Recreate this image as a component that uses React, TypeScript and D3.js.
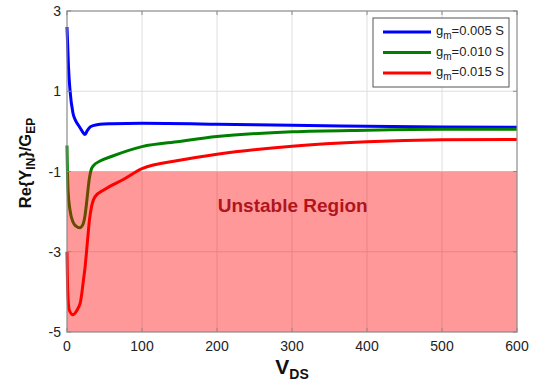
import React from "react";
import * as d3 from "d3";

// V_DS sample points and Re{Y_IN}/G_EP for each transconductance
const vdsBlue = [0, 1, 2, 4, 8, 12, 15, 18, 21, 24, 27, 31, 36, 44, 60, 100, 200, 300, 400, 500, 600];
const blueVals = [2.6, 2.1, 1.6, 1.03, 0.45, 0.25, 0.16, 0.07, -0.02, -0.08, 0.02, 0.11, 0.15, 0.18, 0.19, 0.2, 0.18, 0.15, 0.13, 0.11, 0.1];

const vdsGreen = [0, 0.5, 1.5, 4, 8, 12, 17, 21, 24, 26, 28, 30, 32, 35, 44, 60, 100, 150, 200, 300, 400, 500, 600];
const greenVals = [-0.35, -0.9, -1.5, -1.96, -2.26, -2.36, -2.4, -2.33, -2.1, -1.8, -1.45, -1.15, -0.97, -0.86, -0.74, -0.62, -0.38, -0.25, -0.13, -0.01, 0.03, 0.05, 0.05];

const vdsRed = [0, 0.5, 1, 3, 8, 12, 15, 18, 20, 22, 24, 27, 30, 33, 37, 50, 75, 100, 150, 200, 300, 400, 500, 600];
const redVals = [-3.0, -3.6, -4.0, -4.45, -4.57, -4.5, -4.4, -4.25, -4.0, -3.7, -3.4, -2.8, -2.2, -1.85, -1.64, -1.45, -1.2, -0.93, -0.72, -0.57, -0.37, -0.26, -0.21, -0.2];

const seriesNames = ["0.005 S", "0.010 S", "0.015 S"];
const seriesColors = ["#0000ff", "#008000", "#ff0000"];

const xTicks = [0, 100, 200, 300, 400, 500, 600];
const yTicks = [3, 1, -1, -3, -5];
const unstableTop = -1;
const unstableBottom = -5;

const W = 543;
const H = 388;
const m = { left: 67, right: 517, top: 11, bottom: 332 };

export default function App() {
  const x = d3.scaleLinear().domain([0, 600]).range([m.left, m.right]);
  const y = d3.scaleLinear().domain([-5, 3]).range([m.bottom, m.top]);
  const line = d3
    .line<[number, number]>()
    .x((d) => x(d[0]))
    .y((d) => y(d[1]))
    .curve(d3.curveMonotoneX);

  const series = [
    d3.zip(vdsBlue, blueVals) as [number, number][],
    d3.zip(vdsGreen, greenVals) as [number, number][],
    d3.zip(vdsRed, redVals) as [number, number][],
  ];

  const font = "Arial, 'Liberation Sans', sans-serif";
  const frame = "#8a8a8a";

  return (
    <svg width={W} height={H} style={{ position: "absolute", left: 0, top: 0, background: "#fff" }} fontFamily={font}>
      {/* grid */}
      {xTicks.slice(1, -1).map((t) => (
        <line key={"gx" + t} x1={x(t)} x2={x(t)} y1={m.top} y2={m.bottom} stroke="#dedede" strokeWidth={1} />
      ))}
      {yTicks.slice(1, -1).map((t) => (
        <line key={"gy" + t} x1={m.left} x2={m.right} y1={y(t)} y2={y(t)} stroke="#dedede" strokeWidth={1} />
      ))}

      {/* curves */}
      {series.map((s, i) => (
        <path key={"s" + i} d={line(s) || ""} fill="none" stroke={seriesColors[i]} strokeWidth={3} strokeLinejoin="round" />
      ))}

      {/* unstable region overlay */}
      <rect
        x={x(0)}
        y={y(unstableTop)}
        width={x(600) - x(0)}
        height={y(unstableBottom) - y(unstableTop)}
        fill="#ff0000"
        fillOpacity={0.4}
      />
      <text x={x(301)} y={y(-2.01)} textAnchor="middle" fontSize={19} fontWeight="bold" fill="#b0141e">
        Unstable Region
      </text>

      {/* frame */}
      <rect x={m.left} y={m.top} width={m.right - m.left} height={m.bottom - m.top} fill="none" stroke={frame} strokeWidth={1.2} />
      {xTicks.map((t) => (
        <g key={"xt" + t}>
          <line x1={x(t)} x2={x(t)} y1={m.bottom} y2={m.bottom - 4} stroke={frame} />
          <line x1={x(t)} x2={x(t)} y1={m.top} y2={m.top + 4} stroke={frame} />
          <text x={x(t)} y={m.bottom + 19} textAnchor="middle" fontSize={14} fill="#222">
            {t}
          </text>
        </g>
      ))}
      {yTicks.map((t) => (
        <g key={"yt" + t}>
          <line x1={m.left} x2={m.left + 4} y1={y(t)} y2={y(t)} stroke={frame} />
          <line x1={m.right} x2={m.right - 4} y1={y(t)} y2={y(t)} stroke={frame} />
          <text x={m.left - 6} y={y(t) + 5} textAnchor="end" fontSize={14} fill="#222">
            {t}
          </text>
        </g>
      ))}

      {/* axis titles */}
      <text x={292} y={374} textAnchor="middle" fontSize={21} fontWeight="bold" fill="#111">
        V<tspan fontSize={14} dy={5}>DS</tspan>
      </text>
      <text
        transform="translate(31,163) rotate(-90)"
        textAnchor="middle"
        fontSize={16.5}
        fontWeight="bold"
        fill="#111"
      >
        Re{"{"}Y<tspan fontSize={12} dy={4}>IN</tspan>
        <tspan dy={-4}>{"}"}/G</tspan>
        <tspan fontSize={12} dy={4}>EP</tspan>
      </text>

      {/* legend */}
      <rect x={373} y={18} width={136} height={69} fill="#fff" stroke="#555" strokeWidth={1} />
      {seriesNames.map((n, i) => (
        <g key={"lg" + i}>
          <line x1={383} x2={431} y1={32 + i * 20.5} y2={32 + i * 20.5} stroke={seriesColors[i]} strokeWidth={3} />
          <text x={436} y={32 + i * 20.5 + 3} fontSize={13} fill="#222">
            g<tspan fontSize={10} dy={4}>m</tspan>
            <tspan dy={-4}>={n}</tspan>
          </text>
        </g>
      ))}
    </svg>
  );
}
